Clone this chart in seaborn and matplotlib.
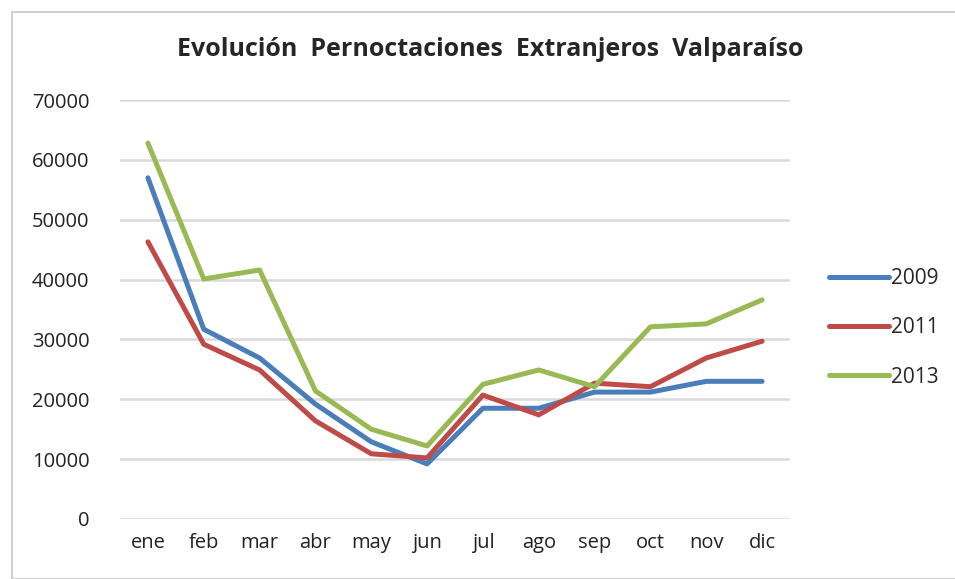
import matplotlib
matplotlib.use("Agg")
import matplotlib.pyplot as plt
import pandas as pd
import seaborn as sns

months = ["ene", "feb", "mar", "abr", "may", "jun", "jul", "ago", "sep", "oct", "nov", "dic"]
y2009 = [57000, 31700, 26900, 19200, 12900, 9200, 18500, 18500, 21200, 21200, 23000, 23000]
y2011 = [46300, 29200, 24900, 16400, 10900, 10200, 20700, 17400, 22700, 22100, 26900, 29700]
y2013 = [62800, 40100, 41600, 21400, 15000, 12200, 22500, 24900, 22100, 32100, 32600, 36600]
years = ["2009", "2011", "2013"]
colors = ["#4A7EBB", "#BE4B48", "#98B954"]


def main() -> None:
    rows = []
    for year, vals in zip(years, [y2009, y2011, y2013]):
        for i, v in enumerate(vals):
            rows.append({"pos": i, "mes": months[i], "anio": year, "valor": v})
    df = pd.DataFrame(rows)

    sns.set_style("white")
    plt.rcParams["font.family"] = ["Open Sans", "DejaVu Sans"]

    fig = plt.figure(figsize=(9.55, 5.79), dpi=100)
    ax = fig.add_axes([120 / 955, 1 - 519 / 579, 670 / 955, 419 / 579])
    sns.lineplot(
        data=df, x="pos", y="valor", hue="anio", palette=colors,
        linewidth=3.6, ax=ax, legend=True,
    )
    ax.set_xlim(-0.5, 11.5)
    ax.set_ylim(0, 70000)
    ax.set_yticks(range(0, 70001, 10000))
    ax.set_xticks(range(12))
    ax.set_xticklabels(months, fontsize=14.5, color="#222222")
    ax.tick_params(axis="y", labelsize=14.5, labelcolor="#222222", pad=22)
    ax.tick_params(axis="x", pad=10)
    ax.yaxis.grid(True, color="#D9D9D9", linewidth=1.8)
    for s in ax.spines.values():
        s.set_visible(False)
    ax.set_xlabel("")
    ax.set_ylabel("")
    ax.tick_params(length=0)

    handles, labels = ax.get_legend_handles_labels()
    ax.legend(
        handles, labels, loc="center left", bbox_to_anchor=(1.03, 0.456),
        frameon=False, fontsize=15, handlelength=2.9, handletextpad=0.1,
        labelspacing=1.35,
    )

    fig.text(0.513, 1 - 50 / 579, "Evolución  Pernoctaciones  Extranjeros  Valparaíso",
             ha="center", va="center", fontsize=18, fontweight="bold")

    fig.patches.append(plt.Rectangle((12 / 955, 0), 1, 1 - 12 / 579, transform=fig.transFigure,
                                     fill=False, edgecolor="#D0D0D0", linewidth=1.5))

    fig.savefig("out.png", dpi=100)
    plt.close(fig)


if __name__ == "__main__":
    main()
